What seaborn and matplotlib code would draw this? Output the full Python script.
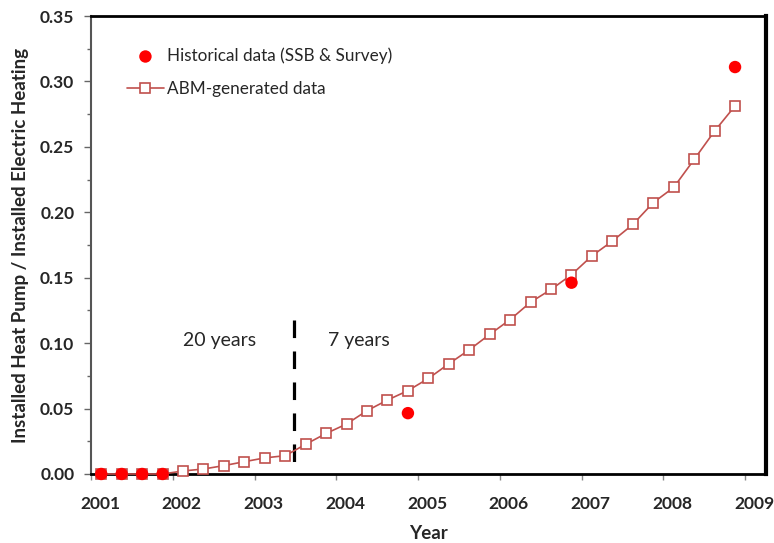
import numpy as np
import pandas as pd
import matplotlib
matplotlib.use('Agg')
import matplotlib.pyplot as plt
import matplotlib.transforms as mtransforms
from matplotlib.ticker import MultipleLocator, FormatStrFormatter
import seaborn as sns

sns.set_style('white')
plt.rcParams['font.family'] = ['Lato', 'DejaVu Sans']

# quarterly model output
abm_year = [2001.125, 2001.375, 2001.625, 2001.875, 2002.125, 2002.375, 2002.625, 2002.875,
            2003.125, 2003.375, 2003.625, 2003.875, 2004.125, 2004.375, 2004.625, 2004.875,
            2005.125, 2005.375, 2005.625, 2005.875, 2006.125, 2006.375, 2006.625, 2006.875,
            2007.125, 2007.375, 2007.625, 2007.875, 2008.125, 2008.375, 2008.625, 2008.875]
abm_ratio = [0.0, 0.0, 0.0, 0.0, 0.0023, 0.0038, 0.0064, 0.0094,
             0.0123, 0.0140, 0.0227, 0.0310, 0.0382, 0.0484, 0.0565, 0.0637,
             0.0730, 0.0842, 0.0949, 0.1067, 0.1180, 0.1313, 0.1410, 0.1523,
             0.1667, 0.1780, 0.1907, 0.2074, 0.2190, 0.2404, 0.2621, 0.2813]

# historical observations
hist_year = [2001.125, 2001.375, 2001.625, 2001.875, 2004.875, 2006.875, 2008.875]
hist_ratio = [0.0, 0.0, 0.0, 0.0, 0.0465, 0.1462, 0.311]

split_year = 2003.48
split_top = 0.118

abm = pd.DataFrame({'year': abm_year, 'ratio': abm_ratio})
hist = pd.DataFrame({'year': hist_year, 'ratio': hist_ratio})

fig = plt.figure(figsize=(7.74, 5.43), dpi=100)
ax = fig.add_axes([0.1176, 0.1271, 0.8717, 0.8434])

sns.lineplot(data=abm, x='year', y='ratio', ax=ax, color='#C0504D', lw=1.2,
             marker='s', markersize=7.5, markerfacecolor='white',
             markeredgecolor='#C0504D', markeredgewidth=1.2,
             label='ABM-generated data', zorder=3, clip_on=False)
sns.scatterplot(data=hist, x='year', y='ratio', ax=ax, color='#FF0000', s=80,
                edgecolor='none', label='Historical data (SSB & Survey)', zorder=4,
                clip_on=False)

# boundary between calibration and projection
ax.plot([split_year, split_year], [split_top, 0], color='black', lw=2.3,
        dashes=(5.5, 4.2), zorder=2)
ax.text(2002.57, 0.102, '20 years', fontsize=14, ha='center', va='center')
ax.text(2004.28, 0.102, '7 years', fontsize=14, ha='center', va='center')

ax.set_xlim(2001, 2009.25)
ax.set_ylim(0, 0.35)
ax.set_xticks(range(2001, 2010))
ax.yaxis.set_major_locator(MultipleLocator(0.05))
ax.yaxis.set_minor_locator(MultipleLocator(0.025))
ax.yaxis.set_major_formatter(FormatStrFormatter('%.2f'))

ax.tick_params(axis='x', which='major', direction='out', length=4, width=1,
               color='#888888', labelsize=12.5, pad=12, bottom=True)
ax.tick_params(axis='y', which='major', direction='out', length=5, width=1,
               color='#666666', labelsize=12.5, pad=7, left=True)
ax.tick_params(axis='y', which='minor', direction='out', length=3, width=1,
               color='#666666', left=True)
for lab in ax.get_xticklabels() + ax.get_yticklabels():
    lab.set_fontweight('bold')
shift = mtransforms.ScaledTranslation(0.09, 0, fig.dpi_scale_trans)
for lab in ax.get_xticklabels():
    lab.set_transform(lab.get_transform() + shift)

ax.set_xlabel('Year', fontsize=13.5, fontweight='bold', labelpad=9.5)
ax.set_ylabel('Installed Heat Pump / Installed Electric Heating', fontsize=13.5,
              fontweight='bold', labelpad=8)

for side in ['top', 'bottom']:
    ax.spines[side].set_color('black')
    ax.spines[side].set_linewidth(2)
ax.spines['right'].set_color('black')
ax.spines['right'].set_linewidth(3)
ax.spines['left'].set_color('#555555')
ax.spines['left'].set_linewidth(1.5)

h, l = ax.get_legend_handles_labels()
ax.legend(h[::-1], l[::-1], loc='upper left', bbox_to_anchor=(0.03, 0.965),
          frameon=False, fontsize=12.3, handlelength=2.2, labelspacing=1.0,
          handletextpad=0.15)

fig.savefig('out.png', dpi=100)
